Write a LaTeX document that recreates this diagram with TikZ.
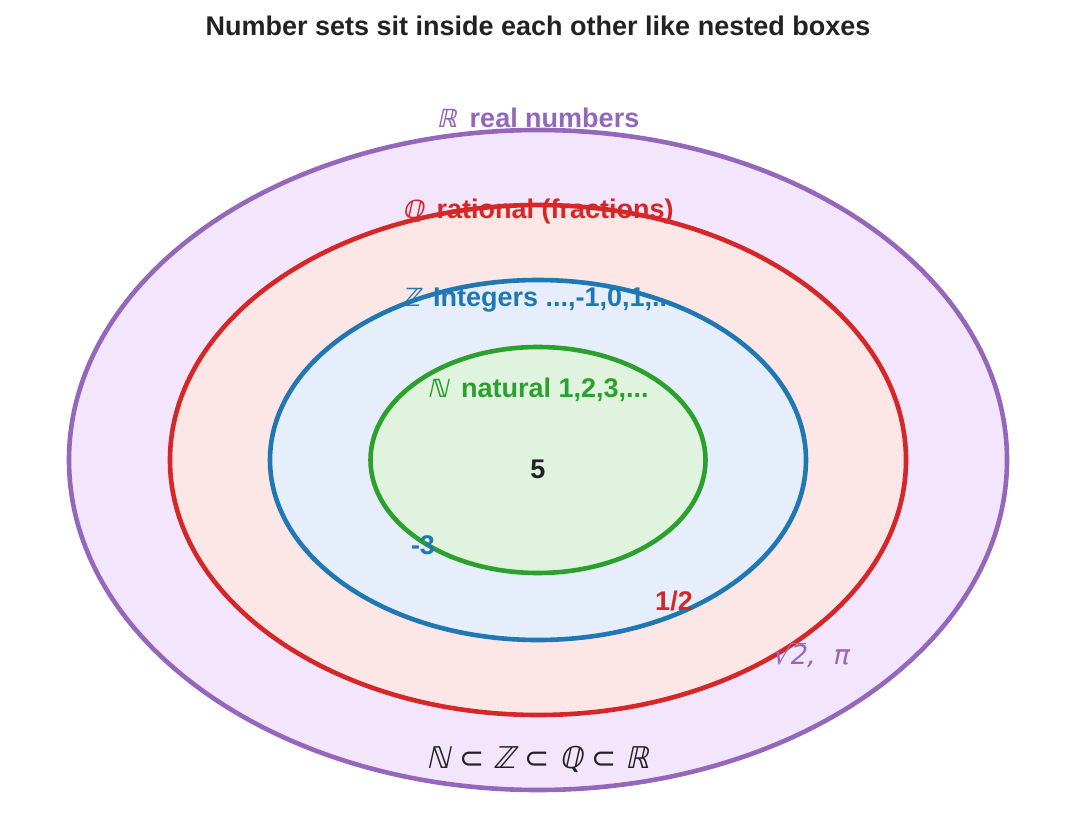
\documentclass[tikz,border=0pt]{standalone}
\usepackage{fontspec}
\setmainfont{Liberation Sans}
\newfontfamily\symfont[FakeSlant=0.22]{DejaVu Sans}
\newfontfamily\symup{DejaVu Sans}
\definecolor{realc}{HTML}{9467BD}
\definecolor{ratc}{HTML}{D62728}
\definecolor{intc}{HTML}{1F77B4}
\definecolor{natc}{HTML}{2CA02C}
\definecolor{realf}{HTML}{F3E5FC}
\definecolor{ratf}{HTML}{FDE6E6}
\definecolor{intf}{HTML}{E6EEFB}
\definecolor{natf}{HTML}{DFF3DF}
\definecolor{ink}{HTML}{222222}
\newcommand{\setsym}[1]{{\symfont\fontsize{25}{29}\selectfont #1}\hspace{13pt}}
\newcommand{\subrel}{\hspace{9pt}{\symup ⊂}\hspace{9pt}}
\tikzset{
	setring/.style={line width=4.6pt},
	setlabel/.style={font=\fontsize{27}{31}\selectfont\bfseries, inner sep=0pt},
	elem/.style={font=\fontsize{27}{31}\selectfont\bfseries, inner sep=0pt}
}
\begin{document}
\begin{tikzpicture}[x=1pt, y=-1pt]
	\useasboundingbox (0,0) rectangle (1076,813);
	% Titel
	\node[setlabel, text=ink] (title) at (538,26) {Number sets sit inside each other like nested boxes};
	% Flaechen
	\fill[realf] (538,460) ellipse [x radius=469pt, y radius=330pt];
	\fill[ratf] (538,460) ellipse [x radius=368pt, y radius=255pt];
	\fill[intf] (538,460) ellipse [x radius=268pt, y radius=180pt];
	\fill[natf] (538,460) ellipse [x radius=167.5pt, y radius=113pt];
	% Mengennamen
	\node[setlabel, text=realc] (real) at (538,118) {\setsym{ℝ}real numbers};
	\node[setlabel, text=ratc] (rat) at (538,212) {\setsym{ℚ}rational (fractions)};
	\node[setlabel, text=intc] (int) at (538,300) {\setsym{ℤ}Integers ...,-1,0,1,...};
	\node[setlabel, text=natc] (nat) at (538,390) {\setsym{ℕ}natural 1,2,3,...};
	% Raender
	\draw[setring, realc] (538,460) ellipse [x radius=469pt, y radius=330pt];
	\draw[setring, ratc] (538,460) ellipse [x radius=368pt, y radius=255pt];
	\draw[setring, intc] (538,460) ellipse [x radius=268pt, y radius=180pt];
	\draw[setring, natc] (538,460) ellipse [x radius=167.5pt, y radius=113pt];
	% Beispiele
	\node[elem, text=ink] (five) at (538,469) {5};
	\node[elem, text=intc] (minus) at (423,545) {-3};
	\node[elem, text=ratc] (half) at (674,601) {1/2};
	\node[inner sep=0pt, text=realc, font=\symfont\fontsize{27}{31}\selectfont] (irr) at (810,655) {√$\overline{\hbox{2}}$,\,\, π};
	% Kette
	\node[inner sep=0pt, text=ink, font=\symfont\fontsize{30}{34}\selectfont] (chain) at (538,759) {ℕ\subrel ℤ\subrel ℚ\subrel ℝ};
\end{tikzpicture}
\end{document}
